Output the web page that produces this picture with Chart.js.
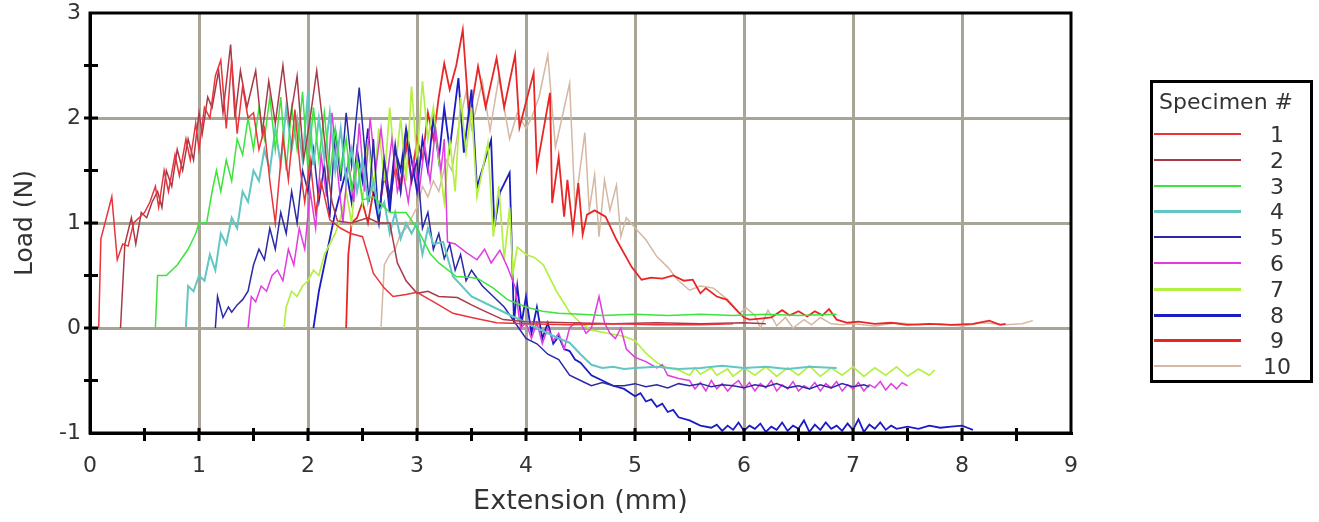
<!DOCTYPE html>
<html>
<head>
<meta charset="utf-8">
<script src="https://cdn.jsdelivr.net/npm/chart.js@4/dist/chart.umd.min.js"></script>
<style>
  body { margin: 0; background: #fff; }
  #wrap { position: relative; width: 1319px; height: 522px; }
  #legend {
    position: absolute; left: 1150px; top: 80px; width: 157px; height: 297px;
    border: 3px solid #000; font-family: "DejaVu Sans", sans-serif; color: #333;
  }
  #legend .title { position: absolute; left: 6px; top: 6px; font-size: 22px; white-space: nowrap; }
  #legend .row { position: absolute; left: 0; width: 157px; height: 20px; }
  #legend .swatch { position: absolute; left: 1px; width: 87px; }
  #legend .num { position: absolute; left: 98px; width: 52px; text-align: center; font-size: 22px; }
</style>
</head>
<body>
<div id="wrap">
  <canvas id="chart" width="1319" height="522"></canvas>
  <div id="legend"></div>
</div>
<script>
// Load vs extension, one list of [extension mm, load N] per specimen
const spec1 = [[0.08,0],[0.1,0.85],[0.2,1.25],[0.25,0.65],[0.3,0.8],[0.35,0.78],[0.4,1.0],[0.45,1.05],[0.5,1.1],[0.55,1.2],[0.6,1.35],[0.63,1.15],[0.68,1.5],[0.72,1.3],[0.78,1.65],[0.82,1.45],[0.88,1.8],[0.92,1.6],[0.97,1.95],[1.0,1.7],[1.05,2.1],[1.1,2.0],[1.15,2.4],[1.2,2.55],[1.25,1.9],[1.3,2.55],[1.35,1.85],[1.4,2.3],[1.45,2.0],[1.5,2.05],[1.55,1.7],[1.6,1.9],[1.65,1.4],[1.7,1.0],[1.77,1.82],[1.82,1.41],[1.88,2.08],[1.93,1.5],[1.97,1.2],[2.02,1.6],[2.07,1.1],[2.12,1.4],[2.2,1.03],[2.3,0.95],[2.39,0.9],[2.5,0.87],[2.55,0.7],[2.6,0.52],[2.7,0.38],[2.78,0.3],[2.9,0.32],[3.0,0.34],[3.1,0.28],[3.2,0.22],[3.33,0.14],[3.5,0.1],[3.73,0.05],[4.0,0.04],[4.4,0.03],[4.8,0.04],[5.2,0.03],[5.6,0.03],[5.9,0.04]];
const spec2 = [[0.28,0],[0.32,0.8],[0.38,1.05],[0.42,0.8],[0.47,1.1],[0.52,1.05],[0.57,1.2],[0.62,1.3],[0.66,1.15],[0.7,1.5],[0.75,1.35],[0.8,1.7],[0.85,1.5],[0.9,1.8],[0.95,1.6],[1.0,2.05],[1.03,1.85],[1.08,2.2],[1.12,2.1],[1.18,2.45],[1.22,2.05],[1.29,2.7],[1.33,2.0],[1.38,2.45],[1.44,2.1],[1.52,2.45],[1.58,1.85],[1.64,2.35],[1.7,1.95],[1.77,2.5],[1.83,1.95],[1.9,2.4],[1.96,1.6],[2.02,2.0],[2.08,2.45],[2.13,2.0],[2.18,1.5],[2.22,1.2],[2.27,1.02],[2.4,1.0],[2.55,1.05],[2.65,1.0],[2.75,1.0],[2.82,0.62],[2.9,0.45],[3.0,0.33],[3.1,0.35],[3.2,0.3],[3.37,0.29],[3.5,0.22],[3.6,0.17],[3.79,0.08],[4.0,0.06],[4.4,0.05],[4.8,0.04],[5.2,0.05],[5.6,0.04],[6.0,0.05],[6.2,0.04]];
const spec3 = [[0.6,0],[0.62,0.5],[0.7,0.5],[0.8,0.6],[0.9,0.75],[0.97,0.9],[1.0,1.0],[1.07,1.0],[1.12,1.3],[1.16,1.5],[1.2,1.3],[1.25,1.6],[1.3,1.4],[1.35,1.8],[1.4,1.65],[1.45,2.0],[1.5,1.7],[1.55,2.1],[1.6,1.8],[1.65,2.2],[1.7,1.7],[1.75,2.2],[1.8,1.5],[1.85,2.1],[1.9,1.7],[1.95,2.25],[2.0,1.5],[2.05,2.1],[2.1,1.6],[2.15,2.05],[2.2,1.45],[2.25,1.9],[2.3,1.5],[2.35,1.8],[2.4,1.3],[2.45,1.6],[2.5,1.22],[2.6,1.25],[2.75,1.1],[2.9,1.1],[3.0,0.95],[3.12,0.71],[3.2,0.62],[3.36,0.49],[3.5,0.48],[3.56,0.47],[3.7,0.38],[3.83,0.27],[4.0,0.2],[4.15,0.16],[4.3,0.14],[4.5,0.13],[4.7,0.12],[5.0,0.13],[5.3,0.12],[5.6,0.13],[5.9,0.12],[6.2,0.13],[6.5,0.12],[6.85,0.13]];
const spec4 = [[0.88,0],[0.9,0.4],[0.95,0.35],[1.0,0.5],[1.05,0.45],[1.1,0.7],[1.15,0.55],[1.2,0.9],[1.25,0.8],[1.3,1.05],[1.35,0.95],[1.4,1.3],[1.45,1.2],[1.5,1.5],[1.55,1.4],[1.6,1.7],[1.65,1.5],[1.7,1.9],[1.75,1.55],[1.8,2.1],[1.85,1.7],[1.9,2.0],[1.95,1.6],[2.0,2.25],[2.05,1.55],[2.1,2.0],[2.15,1.6],[2.2,2.05],[2.25,1.5],[2.3,1.9],[2.35,1.4],[2.4,1.7],[2.45,1.3],[2.5,1.6],[2.55,1.2],[2.6,1.4],[2.65,1.1],[2.7,1.2],[2.75,0.9],[2.8,1.1],[2.85,0.85],[2.9,1.0],[2.95,0.9],[3.0,1.0],[3.05,0.7],[3.1,0.95],[3.15,0.8],[3.24,0.82],[3.33,0.49],[3.5,0.3],[3.7,0.2],[3.9,0.1],[4.0,0.05],[4.1,0.0],[4.2,-0.05],[4.3,-0.1],[4.4,-0.14],[4.5,-0.25],[4.6,-0.35],[4.7,-0.38],[4.8,-0.37],[4.9,-0.39],[5.0,-0.38],[5.2,-0.37],[5.4,-0.39],[5.6,-0.38],[5.8,-0.36],[6.0,-0.38],[6.2,-0.37],[6.4,-0.39],[6.6,-0.37],[6.85,-0.38]];
const spec5 = [[1.15,0],[1.17,0.3],[1.22,0.1],[1.27,0.2],[1.3,0.15],[1.35,0.22],[1.4,0.27],[1.45,0.35],[1.5,0.6],[1.55,0.75],[1.6,0.65],[1.65,0.95],[1.7,0.75],[1.75,1.1],[1.8,0.9],[1.85,1.3],[1.9,1.0],[1.95,1.5],[2.0,1.3],[2.05,1.7],[2.1,1.2],[2.15,1.55],[2.2,1.05],[2.25,1.9],[2.3,1.4],[2.35,2.05],[2.4,1.55],[2.47,2.29],[2.52,1.7],[2.56,1.2],[2.6,1.8],[2.65,1.0],[2.7,1.6],[2.75,1.25],[2.8,1.75],[2.85,1.3],[2.9,1.9],[2.95,1.4],[3.0,1.6],[3.05,0.95],[3.1,1.1],[3.15,0.75],[3.2,0.9],[3.25,0.66],[3.3,0.8],[3.35,0.55],[3.4,0.7],[3.45,0.45],[3.5,0.55],[3.6,0.4],[3.7,0.3],[3.8,0.2],[3.9,0.05],[4.0,-0.1],[4.1,-0.15],[4.2,-0.25],[4.3,-0.3],[4.4,-0.45],[4.5,-0.5],[4.6,-0.55],[4.7,-0.52],[4.8,-0.55],[4.9,-0.55],[5.0,-0.53],[5.1,-0.56],[5.2,-0.54],[5.3,-0.57],[5.4,-0.53],[5.5,-0.55],[5.6,-0.53],[5.7,-0.56],[5.8,-0.54],[5.9,-0.55],[6.0,-0.57],[6.1,-0.54],[6.2,-0.56],[6.3,-0.53],[6.4,-0.57],[6.5,-0.55],[6.6,-0.58],[6.7,-0.54],[6.8,-0.57],[6.9,-0.53],[7.0,-0.56],[7.1,-0.54],[7.15,-0.56]];
const spec6 = [[1.45,0],[1.48,0.3],[1.52,0.25],[1.57,0.4],[1.62,0.35],[1.67,0.5],[1.72,0.55],[1.77,0.45],[1.82,0.75],[1.87,0.6],[1.92,0.95],[1.97,0.75],[2.02,1.3],[2.07,0.95],[2.12,1.65],[2.17,1.25],[2.22,2.05],[2.27,1.5],[2.32,1.0],[2.37,1.6],[2.42,1.2],[2.47,1.95],[2.52,1.3],[2.57,2.0],[2.62,1.5],[2.67,1.9],[2.72,1.4],[2.77,1.8],[2.82,1.3],[2.87,1.5],[2.92,1.2],[2.97,1.6],[3.02,1.3],[3.07,1.75],[3.12,1.4],[3.17,1.9],[3.22,1.5],[3.25,1.8],[3.28,0.82],[3.35,0.8],[3.45,0.72],[3.55,0.65],[3.62,0.75],[3.68,0.62],[3.76,0.74],[3.83,0.58],[3.9,0.39],[3.95,0.0],[4.0,0.05],[4.05,-0.1],[4.1,0.05],[4.15,-0.15],[4.2,0.0],[4.25,-0.12],[4.3,-0.05],[4.35,-0.2],[4.4,0.0],[4.45,0.05],[4.5,0.05],[4.55,-0.05],[4.6,0.0],[4.67,0.3],[4.72,0.05],[4.77,-0.05],[4.82,-0.1],[4.87,0.0],[4.92,-0.2],[5.0,-0.28],[5.1,-0.32],[5.2,-0.38],[5.25,-0.35],[5.3,-0.45],[5.4,-0.48],[5.5,-0.5],[5.55,-0.58],[5.6,-0.52],[5.65,-0.6],[5.7,-0.5],[5.75,-0.58],[5.8,-0.53],[5.85,-0.6],[5.9,-0.54],[5.95,-0.5],[6.0,-0.58],[6.05,-0.52],[6.1,-0.6],[6.15,-0.53],[6.2,-0.57],[6.25,-0.5],[6.3,-0.6],[6.35,-0.54],[6.4,-0.58],[6.45,-0.51],[6.5,-0.6],[6.55,-0.55],[6.6,-0.58],[6.65,-0.52],[6.7,-0.6],[6.75,-0.53],[6.8,-0.57],[6.85,-0.51],[6.9,-0.6],[6.95,-0.54],[7.0,-0.58],[7.05,-0.52],[7.1,-0.6],[7.15,-0.54],[7.2,-0.57],[7.25,-0.51],[7.3,-0.59],[7.35,-0.53],[7.4,-0.58],[7.45,-0.52],[7.5,-0.55]];
const spec7 = [[1.78,0],[1.8,0.2],[1.85,0.35],[1.9,0.3],[1.95,0.4],[2.0,0.45],[2.05,0.55],[2.1,0.5],[2.15,0.7],[2.2,0.8],[2.25,0.9],[2.3,1.05],[2.35,1.3],[2.4,1.0],[2.45,1.6],[2.5,1.2],[2.55,1.8],[2.6,1.3],[2.65,1.9],[2.7,1.4],[2.75,2.1],[2.8,1.5],[2.85,2.0],[2.9,1.4],[2.95,2.3],[3.0,1.6],[3.05,2.35],[3.1,1.8],[3.15,2.1],[3.2,1.6],[3.25,1.2],[3.3,1.8],[3.35,1.3],[3.4,2.2],[3.45,1.67],[3.5,2.1],[3.55,1.25],[3.6,1.5],[3.65,1.76],[3.7,0.87],[3.75,1.35],[3.8,0.65],[3.85,1.15],[3.88,0.52],[3.92,0.77],[4.0,0.7],[4.08,0.67],[4.16,0.6],[4.28,0.35],[4.4,0.15],[4.5,0.05],[4.6,-0.02],[4.75,-0.05],[4.9,-0.08],[5.0,-0.12],[5.1,-0.24],[5.2,-0.33],[5.3,-0.38],[5.4,-0.4],[5.5,-0.45],[5.55,-0.38],[5.6,-0.44],[5.7,-0.38],[5.75,-0.45],[5.85,-0.39],[5.9,-0.46],[6.0,-0.38],[6.1,-0.45],[6.2,-0.37],[6.3,-0.46],[6.4,-0.38],[6.5,-0.45],[6.6,-0.36],[6.7,-0.46],[6.8,-0.38],[6.9,-0.45],[7.0,-0.37],[7.1,-0.46],[7.2,-0.38],[7.3,-0.45],[7.4,-0.37],[7.5,-0.46],[7.6,-0.39],[7.7,-0.45],[7.75,-0.4]];
const spec8 = [[2.05,0],[2.1,0.35],[2.15,0.6],[2.2,0.85],[2.25,1.1],[2.3,1.3],[2.35,1.5],[2.4,1.2],[2.45,1.7],[2.5,1.4],[2.55,1.9],[2.6,1.3],[2.65,1.0],[2.7,1.6],[2.75,1.1],[2.8,1.7],[2.85,1.5],[2.9,1.9],[2.95,1.6],[3.0,1.3],[3.05,1.8],[3.1,1.5],[3.15,2.0],[3.2,1.6],[3.25,2.1],[3.3,1.7],[3.38,2.38],[3.43,1.67],[3.5,2.27],[3.55,1.34],[3.68,1.79],[3.71,0.96],[3.76,1.29],[3.85,1.48],[3.89,0.05],[3.92,0.4],[3.96,0.05],[4.0,0.3],[4.05,-0.05],[4.1,0.2],[4.15,-0.1],[4.2,0.05],[4.25,-0.15],[4.3,-0.08],[4.35,-0.2],[4.4,-0.22],[4.45,-0.3],[4.5,-0.33],[4.6,-0.45],[4.7,-0.5],[4.8,-0.55],[4.9,-0.58],[5.0,-0.65],[5.05,-0.62],[5.1,-0.7],[5.15,-0.68],[5.2,-0.75],[5.25,-0.72],[5.3,-0.8],[5.35,-0.78],[5.4,-0.85],[5.5,-0.88],[5.6,-0.93],[5.7,-0.95],[5.75,-0.92],[5.8,-0.98],[5.85,-0.93],[5.9,-0.97],[5.95,-0.9],[6.0,-0.98],[6.05,-0.93],[6.1,-0.96],[6.15,-0.91],[6.2,-0.99],[6.25,-0.94],[6.3,-0.97],[6.35,-0.9],[6.4,-0.98],[6.45,-0.93],[6.5,-0.96],[6.55,-0.88],[6.6,-0.99],[6.65,-0.92],[6.7,-0.97],[6.75,-0.9],[6.8,-0.96],[6.85,-0.93],[6.9,-0.98],[6.95,-0.91],[7.0,-0.97],[7.05,-0.87],[7.1,-0.99],[7.15,-0.92],[7.2,-0.96],[7.25,-0.9],[7.3,-0.97],[7.35,-0.93],[7.4,-0.96],[7.5,-0.94],[7.6,-0.96],[7.7,-0.93],[7.8,-0.95],[7.9,-0.94],[8.0,-0.93],[8.05,-0.95],[8.1,-0.97]];
const spec9 = [[2.35,0],[2.37,0.7],[2.4,1.0],[2.45,1.05],[2.5,1.2],[2.55,1.0],[2.6,1.3],[2.65,1.1],[2.7,1.45],[2.75,1.2],[2.8,1.55],[2.85,1.3],[2.9,1.75],[2.95,1.4],[3.0,1.8],[3.05,1.6],[3.1,2.05],[3.15,1.8],[3.2,2.2],[3.25,2.52],[3.3,2.27],[3.36,2.5],[3.42,2.84],[3.48,1.98],[3.56,2.49],[3.63,2.1],[3.73,2.57],[3.8,2.1],[3.9,2.6],[3.94,1.91],[4.07,2.43],[4.1,1.53],[4.22,2.24],[4.24,1.19],[4.3,1.63],[4.35,1.06],[4.38,1.41],[4.43,0.93],[4.48,1.38],[4.52,0.89],[4.56,1.08],[4.63,1.12],[4.73,1.06],[4.83,0.84],[4.97,0.58],[5.06,0.46],[5.15,0.48],[5.25,0.47],[5.35,0.5],[5.45,0.45],[5.53,0.46],[5.6,0.33],[5.65,0.38],[5.75,0.3],[5.84,0.27],[5.96,0.14],[6.0,0.1],[6.05,0.08],[6.15,0.09],[6.25,0.1],[6.35,0.17],[6.42,0.12],[6.5,0.16],[6.58,0.11],[6.65,0.16],[6.72,0.12],[6.78,0.18],[6.85,0.08],[6.95,0.05],[7.05,0.06],[7.2,0.04],[7.35,0.05],[7.5,0.03],[7.7,0.04],[7.9,0.03],[8.1,0.04],[8.25,0.07],[8.35,0.03],[8.4,0.04]];
const spec10 = [[2.67,0],[2.7,0.6],[2.75,0.7],[2.8,0.75],[2.85,0.9],[2.9,0.95],[2.95,1.05],[3.0,1.15],[3.05,1.35],[3.1,1.25],[3.15,1.4],[3.2,1.3],[3.27,1.6],[3.32,1.5],[3.38,1.9],[3.45,2.25],[3.5,1.9],[3.6,2.35],[3.67,1.88],[3.75,2.38],[3.85,1.8],[3.92,2.05],[4.0,1.9],[4.05,2.0],[4.12,2.2],[4.2,2.6],[4.27,1.72],[4.33,2.0],[4.4,2.33],[4.45,1.15],[4.54,1.86],[4.58,1.12],[4.63,1.46],[4.67,0.87],[4.72,1.41],[4.77,1.12],[4.83,1.36],[4.87,0.87],[4.92,1.05],[5.02,0.93],[5.1,0.84],[5.2,0.68],[5.3,0.58],[5.39,0.46],[5.5,0.36],[5.6,0.4],[5.72,0.38],[5.85,0.27],[5.96,0.14],[6.02,0.19],[6.1,0.12],[6.15,0.0],[6.22,0.17],[6.3,0.02],[6.38,0.1],[6.45,0.0],[6.55,0.08],[6.62,0.03],[6.7,0.1],[6.8,0.04],[6.9,0.03],[7.0,0.04],[7.2,0.02],[7.4,0.05],[7.6,0.03],[7.8,0.04],[8.0,0.02],[8.2,0.05],[8.4,0.03],[8.55,0.04],[8.65,0.07]];

const specimens = [spec1, spec2, spec3, spec4, spec5, spec6, spec7, spec8, spec9, spec10];
const specimenLabels = ["1", "2", "3", "4", "5", "6", "7", "8", "9", "10"];
const xTickLabels = ["0", "1", "2", "3", "4", "5", "6", "7", "8", "9"];
const yTickLabels = ["-1", "0", "1", "2", "3"];

const lineColors = ["#e8343a", "#a83a48", "#3ce43c", "#62c6c4", "#2a2aa8", "#e03ce0", "#b4f044", "#1c1cc4", "#e82626", "#d4b8a4"];
const lineWidths = [1.5, 1.5, 1.5, 2, 1.5, 1.5, 1.7, 1.8, 1.8, 1.5];
const gridGray = "#a8a496";
const FONT = '"DejaVu Sans", sans-serif';

// frame round the plot and the little black tick marks every 0.5
const framePlugin = {
  id: "frame",
  afterDraw(chart) {
    const { ctx, chartArea: a, scales } = chart;
    ctx.save();
    ctx.strokeStyle = "#000";
    ctx.lineWidth = 3;
    ctx.strokeRect(a.left, a.top, a.right - a.left, a.bottom - a.top);
    for (let v = 0.5; v < 9; v += 0.5) {
      const px = scales.x.getPixelForValue(v);
      ctx.beginPath();
      ctx.moveTo(px, a.bottom - 5);
      ctx.lineTo(px, a.bottom + 8);
      ctx.stroke();
    }
    for (let v = -0.5; v < 3; v += 0.5) {
      const py = scales.y.getPixelForValue(v);
      ctx.beginPath();
      ctx.moveTo(a.left - 6, py);
      ctx.lineTo(a.left + 8, py);
      ctx.stroke();
    }
    ctx.restore();
  },
};

function gridColor(lo, hi) {
  return (c) => {
    const v = c.tick && c.tick.value;
    return Number.isInteger(v) && v > lo && v < hi ? gridGray : "rgba(0,0,0,0)";
  };
}

const chart = new Chart(document.getElementById("chart"), {
  type: "scatter",
  data: {
    datasets: specimens.map((s, i) => ({
      label: specimenLabels[i],
      data: s.map(([x, y]) => ({ x, y })),
      showLine: true,
      borderColor: lineColors[i],
      backgroundColor: lineColors[i],
      borderWidth: lineWidths[i],
      pointRadius: 0,
      tension: 0,
    })),
  },
  options: {
    responsive: false,
    animation: false,
    layout: { padding: { top: 13, right: 248, left: 0, bottom: 0 } },
    plugins: { legend: { display: false }, tooltip: { enabled: false } },
    scales: {
      x: {
        type: "linear",
        min: 0,
        max: 9,
        afterFit: (s) => { s.height = 89; },
        border: { color: "#000", width: 3 },
        grid: { color: gridColor(0, 9), lineWidth: 3, drawTicks: false },
        ticks: {
          stepSize: 0.5,
          autoSkip: false,
          maxRotation: 0,
          padding: 20,
          color: "#333",
          font: { family: FONT, size: 22 },
          callback: (v) => (Number.isInteger(v) ? xTickLabels[v] : ""),
        },
        title: {
          display: true,
          text: "Extension (mm)",
          color: "#333",
          font: { family: FONT, size: 27 },
          padding: { top: 0, bottom: 4 },
        },
      },
      y: {
        type: "linear",
        min: -1,
        max: 3,
        afterFit: (s) => { s.width = 90; s.paddingTop = 0; s.paddingBottom = 0; },
        border: { color: "#000", width: 3 },
        grid: { color: gridColor(-1, 3), lineWidth: 3, drawTicks: false },
        ticks: {
          stepSize: 0.5,
          autoSkip: false,
          padding: 9,
          color: "#333",
          font: { family: FONT, size: 22 },
          callback: (v) => (Number.isInteger(v) ? yTickLabels[v + 1] : ""),
        },
        title: {
          display: true,
          text: "Load (N)",
          color: "#333",
          font: { family: FONT, size: 25 },
          padding: { top: 10, bottom: 0 },
        },
      },
    },
  },
  plugins: [framePlugin],
});

// legend box on the right
const legend = document.getElementById("legend");
legend.innerHTML = '<div class="title">Specimen #</div>' +
  chart.data.datasets.map((d, i) => `
    <div class="row" style="top:${44 + i * 25.8}px">
      <div class="swatch" style="top:${8 - Math.ceil(lineWidths[i])}px;border-top:${Math.max(2, Math.round(lineWidths[i] * 1.5))}px solid ${d.borderColor}"></div>
      <div class="num" style="top:-5px">${d.label}</div>
    </div>`).join("");
</script>
</body>
</html>
